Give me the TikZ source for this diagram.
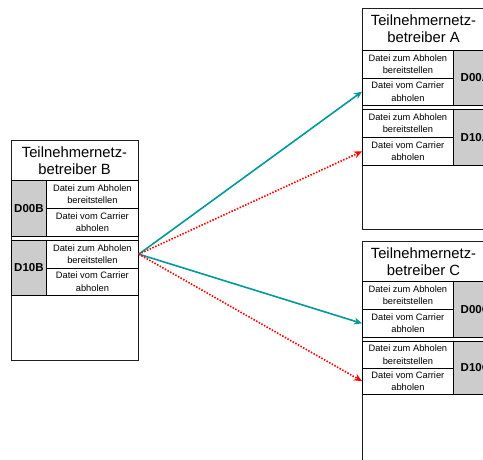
\documentclass[tikz,border=0pt]{standalone}
\usepackage{fontspec}
\setmainfont{Liberation Sans}
\usetikzlibrary{arrows.meta}
\definecolor{tealarrow}{RGB}{0,153,153}
\definecolor{framegray}{RGB}{30,30,30}
\newcommand{\cellfnt}{\fontsize{9.3}{12.3}\selectfont}
\newcommand{\titlefnt}{\fontsize{14.8}{17}\selectfont}
\newcommand{\grayfnt}{\fontsize{11.5}{13}\selectfont\bfseries}
\begin{document}
\begin{tikzpicture}[x=1pt,y=-1pt,
  frame/.style={draw=framegray, line width=1.1pt, anchor=north west, inner sep=0, minimum width=#1},
  titlebox/.style={align=center, font=\titlefnt, inner sep=0},
  cellbox/.style={draw=black, line width=0.8pt, anchor=north west, inner sep=0, align=center, font=\cellfnt},
  graybox/.style={cellbox, fill=gray!40, font=\grayfnt},
  tealline/.style={draw=tealarrow, line width=1.6pt, -{Stealth[length=8pt,width=7pt,inset=2.5pt]}},
  redline/.style={draw=red, line width=1.6pt, dash pattern=on 1.5pt off 1.5pt, -{Stealth[length=8pt,width=7pt,inset=2.5pt]}}
]
\useasboundingbox (0,0) rectangle (483,459);
\clip (0,0) rectangle (483,459);

% ---------- Box B ----------
\node[frame=127pt, minimum height=220pt] (B) at (11,140) {};
\node[titlebox] (Bt) at (74.5,161) {Teilnehmernetz-\\betreiber B};
\node[graybox, minimum width=35pt, minimum height=56pt] (B0) at (11,180) {D00B};
\node[cellbox, minimum width=92pt, minimum height=28pt] (B0a) at (46,180) {Datei zum Abholen\\bereitstellen};
\node[cellbox, minimum width=92pt, minimum height=28pt] (B0b) at (46,208) {Datei vom Carrier\\abholen};
\node[graybox, minimum width=35pt, minimum height=55pt] (B1) at (11,240) {D10B};
\node[cellbox, minimum width=92pt, minimum height=27.5pt] (B1a) at (46,240) {Datei zum Abholen\\bereitstellen};
\node[cellbox, minimum width=92pt, minimum height=27.5pt] (B1b) at (46,267.5) {Datei vom Carrier\\abholen};

% ---------- Box A ----------
\node[frame=140pt, minimum height=221pt] (A) at (362,8) {};
\node[titlebox] (At) at (423.5,29) {Teilnehmernetz-\\betreiber A};
\node[cellbox, minimum width=91pt, minimum height=27.5pt] (A0a) at (362,50) {Datei zum Abholen\\bereitstellen};
\node[cellbox, minimum width=91pt, minimum height=27.5pt] (A0b) at (362,77.5) {Datei vom Carrier\\abholen};
\node[graybox, minimum width=44pt, minimum height=55pt] (A0) at (453,50) {D00A};
\node[cellbox, minimum width=91pt, minimum height=28pt] (A1a) at (362,109) {Datei zum Abholen\\bereitstellen};
\node[cellbox, minimum width=91pt, minimum height=28pt] (A1b) at (362,137) {Datei vom Carrier\\abholen};
\node[graybox, minimum width=44pt, minimum height=56pt] (A1) at (453,109) {D10A};

% ---------- Box C ----------
\node[frame=140pt, minimum height=240pt] (C) at (362,241) {};
\node[titlebox] (Ct) at (423.5,261.5) {Teilnehmernetz-\\betreiber C};
\node[cellbox, minimum width=91pt, minimum height=28pt] (C0a) at (362,281) {Datei zum Abholen\\bereitstellen};
\node[cellbox, minimum width=91pt, minimum height=28pt] (C0b) at (362,309) {Datei vom Carrier\\abholen};
\node[graybox, minimum width=44pt, minimum height=56pt] (C0) at (453,281) {D00C};
\node[cellbox, minimum width=91pt, minimum height=26.5pt] (C1a) at (362,341) {Datei zum Abholen\\bereitstellen};
\node[cellbox, minimum width=91pt, minimum height=26.5pt] (C1b) at (362,367.5) {Datei vom Carrier\\abholen};
\node[graybox, minimum width=44pt, minimum height=53pt] (C1) at (453,341) {D10C};

% ---------- Connectors ----------
\draw[tealline] (B1a.east) -- (A0b.west);
\draw[redline] (B1a.east) -- (A1b.west);
\draw[tealline] (B1a.east) -- (C0b.west);
\draw[redline] (B1a.east) -- (C1b.west);
\end{tikzpicture}
\end{document}
